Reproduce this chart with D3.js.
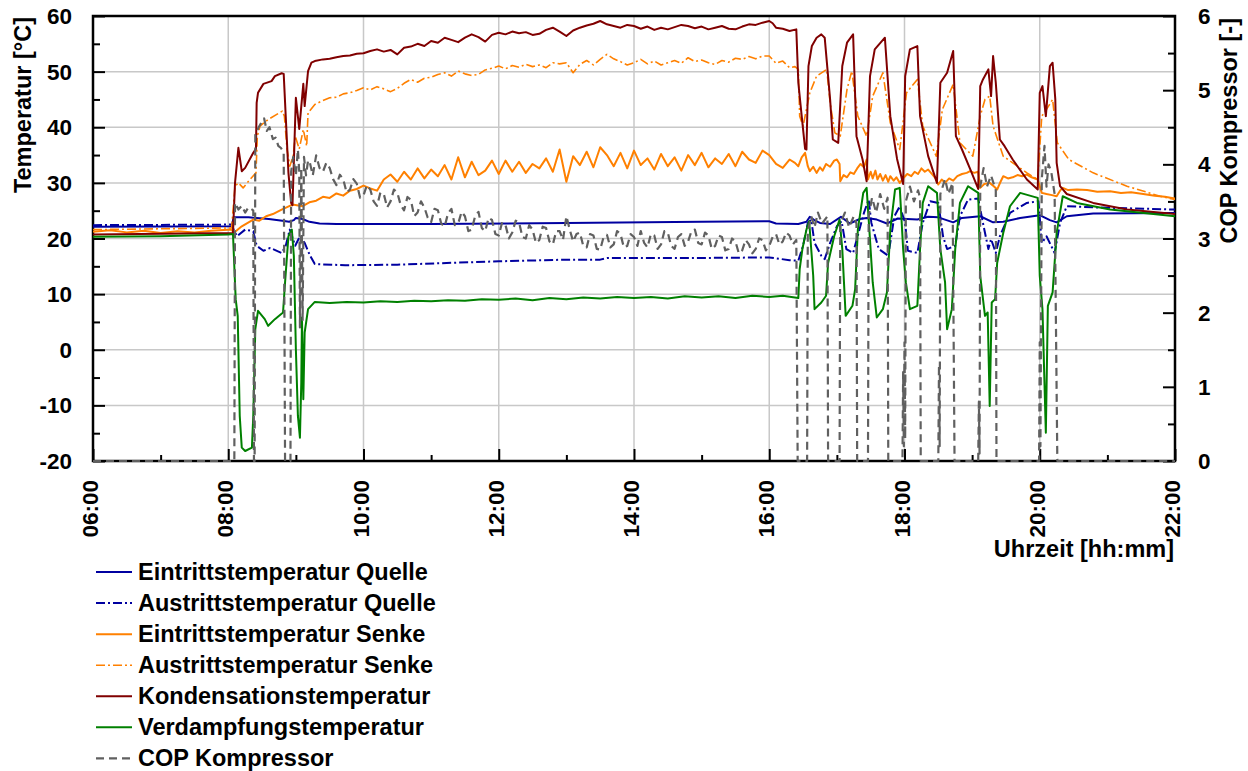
<!DOCTYPE html>
<html>
<head>
<meta charset="utf-8">
<script src="https://cdn.jsdelivr.net/npm/d3@7"></script>
<style>
  body { margin: 0; background: #fff; }
  text { font-family: "Liberation Sans", Arial, sans-serif; font-weight: bold; fill: #000; }
</style>
</head>
<body>
<svg id="chart" width="1248" height="771"></svg>
<script>

/* ── Data: [time in hours, value] ── */
const eintrittQuelle = [
  [6.0, 22.1], [8.05, 22.2], [8.08, 23.8], [8.3, 23.8], [8.6, 23.5], [8.8, 23.2], [8.9, 23.0],
  [8.97, 23.3], [9.0, 23.7], [9.1, 23.5], [9.2, 23.0], [9.35, 22.7], [9.6, 22.6], [11.0, 22.6],
  [13.0, 22.8], [15.0, 23.0], [16.0, 23.1], [16.1, 22.7], [16.43, 22.6], [16.55, 23.0], [16.6, 23.9],
  [16.68, 23.2], [16.75, 22.8], [16.9, 22.6], [17.06, 23.9], [17.19, 22.7], [17.34, 23.5], [17.44, 23.7],
  [17.59, 23.4], [17.74, 22.7], [17.9, 23.6], [18.04, 23.5], [18.19, 23.4], [18.35, 23.9], [18.5, 23.8],
  [18.72, 22.9], [18.85, 23.7], [19.12, 24.0], [19.31, 22.9], [19.46, 23.0], [19.71, 23.7], [20.0, 24.2],
  [20.15, 23.3], [20.25, 22.9], [20.4, 24.0], [20.79, 24.5], [22.0, 24.6]
];

const austrittQuelle = [
  [6.0, 22.4], [8.05, 22.5], [8.08, 21.6], [8.13, 20.4], [8.25, 21.6], [8.37, 21.3], [8.42, 18.7],
  [8.52, 17.8], [8.62, 18.3], [8.79, 17.4], [8.85, 18.7], [8.91, 21.6], [8.99, 18.7], [9.06, 20.4],
  [9.13, 19.2], [9.21, 16.9], [9.28, 15.4], [9.73, 15.2], [10.5, 15.3], [12.0, 15.9], [13.0, 16.2],
  [13.5, 16.2], [13.6, 16.5], [15.0, 16.5], [16.0, 16.6], [16.3, 16.1], [16.43, 16.0], [16.5, 18.7],
  [16.57, 22.8], [16.62, 23.4], [16.67, 19.2], [16.77, 16.9], [16.82, 16.3], [16.9, 19.2], [17.0, 22.2],
  [17.07, 23.1], [17.14, 18.1], [17.24, 17.4], [17.32, 21.0], [17.4, 24.6], [17.47, 27.0], [17.51, 22.8],
  [17.62, 18.1], [17.76, 16.9], [17.85, 24.0], [17.93, 25.8], [18.01, 22.8], [18.05, 17.8], [18.19, 17.4],
  [18.27, 22.8], [18.38, 26.7], [18.5, 26.4], [18.57, 20.4], [18.63, 18.1], [18.75, 18.7], [18.82, 24.0],
  [18.94, 27.0], [19.09, 27.2], [19.16, 22.8], [19.24, 18.1], [19.28, 19.9], [19.35, 17.4], [19.41, 20.4],
  [19.56, 24.6], [19.81, 26.4], [19.98, 26.7], [20.03, 19.2], [20.1, 20.4], [20.22, 17.4], [20.3, 22.8],
  [20.4, 25.8], [20.8, 25.6], [22.0, 25.2]
];

const eintrittSenke = [
  [6.0, 21.2], [6.25, 21.5], [6.5, 21.1], [6.75, 21.4], [7.0, 21.0], [7.25, 21.3], [7.5, 21.1],
  [7.75, 21.4], [8.05, 21.6], [8.08, 21.0], [8.2, 22.2], [8.37, 23.4], [8.46, 23.2], [8.56, 24.0],
  [8.66, 24.4], [8.79, 25.2], [8.95, 26.1], [9.1, 25.8], [9.2, 26.5],
  [9.3, 26.8], [9.4, 27.5], [9.5, 27.3], [9.6, 28.1], [9.7, 27.7], [9.8, 28.6], [9.9, 28.9],
  [10.0, 29.5], [10.1, 29.0], [10.2, 28.6], [10.3, 30.6], [10.4, 31.5], [10.5, 30.2], [10.6, 32.0],
  [10.7, 30.6], [10.8, 32.6], [10.9, 30.8], [11.0, 32.4], [11.1, 31.2], [11.2, 33.2], [11.3, 30.6],
  [11.4, 34.6], [11.5, 31.0], [11.6, 33.8], [11.7, 31.4], [11.8, 32.2], [11.9, 34.0], [12.0, 31.6],
  [12.1, 34.0], [12.2, 32.0], [12.3, 33.8], [12.4, 31.8], [12.5, 33.4], [12.6, 32.6], [12.7, 34.4],
  [12.8, 32.0], [12.9, 36.0], [13.0, 30.2], [13.1, 34.8], [13.2, 33.2], [13.3, 35.6], [13.4, 32.8],
  [13.5, 36.4], [13.6, 35.0], [13.7, 33.0], [13.8, 35.4], [13.9, 32.6], [14.0, 35.8], [14.1, 33.2],
  [14.2, 34.4], [14.3, 32.4], [14.4, 35.2], [14.5, 33.0], [14.6, 34.6], [14.7, 32.2], [14.8, 35.0],
  [14.9, 33.2], [15.0, 35.4], [15.1, 32.8], [15.2, 34.4], [15.3, 33.4], [15.4, 35.2], [15.5, 33.0],
  [15.6, 35.6], [15.7, 34.2], [15.8, 33.6], [15.9, 35.8], [16.0, 35.0], [16.1, 33.4], [16.2, 32.7],
  [16.3, 34.2], [16.38, 33.6], [16.43, 33.0], [16.48, 34.6], [16.53, 35.4], [16.57, 33.0], [16.6, 32.1],
  [16.65, 32.9], [16.7, 31.8], [16.75, 32.8], [16.79, 32.2], [16.84, 33.4], [16.9, 32.9], [16.96, 34.0],
  [17.0, 34.2], [17.04, 33.4], [17.05, 30.3], [17.1, 31.4], [17.15, 31.0], [17.2, 31.9], [17.25, 31.6],
  [17.3, 32.6], [17.35, 33.4], [17.4, 32.8], [17.44, 34.2], [17.46, 30.6], [17.5, 32.0], [17.53, 30.8],
  [17.57, 32.2], [17.6, 30.6], [17.64, 31.6], [17.68, 30.4], [17.72, 31.4], [17.76, 30.2], [17.79, 31.2],
  [17.84, 30.4], [17.88, 31.0], [17.93, 30.0], [17.98, 30.8], [18.04, 31.6], [18.1, 31.2], [18.15, 32.0],
  [18.2, 31.6], [18.25, 32.6], [18.3, 32.0], [18.35, 32.4], [18.42, 31.4], [18.46, 30.8], [18.5, 29.7],
  [18.55, 30.6], [18.6, 30.0], [18.66, 30.8], [18.72, 30.4], [18.78, 31.2], [18.85, 31.6], [18.92, 31.8],
  [18.97, 32.1], [19.03, 31.8], [19.09, 32.0], [19.12, 29.1], [19.18, 29.8], [19.26, 30.0], [19.32, 29.4],
  [19.37, 28.8], [19.42, 30.2], [19.46, 31.2], [19.53, 30.8], [19.6, 31.0], [19.67, 31.4], [19.74, 31.2],
  [19.81, 31.5], [19.88, 31.0], [19.97, 30.6], [20.03, 28.2], [20.1, 28.0], [20.18, 27.8], [20.25, 27.6],
  [20.3, 28.6], [20.34, 29.1], [20.42, 28.7], [20.55, 28.8], [20.7, 28.7], [20.85, 28.4], [21.04, 28.5],
  [21.2, 28.2], [21.35, 28.3], [21.53, 28.0], [21.7, 27.7], [21.85, 27.5], [22.0, 27.2]
];

const austrittSenke = [
  [6.0, 21.6], [8.05, 21.9], [8.1, 29.4], [8.15, 30.0], [8.22, 29.1], [8.32, 30.6], [8.41, 31.8],
  [8.43, 38.4], [8.47, 40.2], [8.59, 41.4], [8.8, 42.9], [8.83, 42.0], [8.87, 36.0], [8.91, 33.0],
  [8.96, 34.8], [8.99, 38.4], [9.05, 36.1], [9.11, 39.6], [9.16, 36.6], [9.18, 42.6], [9.28, 44.1],
  [9.4, 44.8], [9.5, 45.3], [9.6, 45.4], [9.7, 46.0], [9.8, 46.2], [9.9, 46.6], [10.0, 47.1],
  [10.1, 46.7], [10.2, 47.3], [10.3, 46.9], [10.4, 46.4], [10.5, 47.0], [10.6, 47.9], [10.7, 48.6],
  [10.8, 48.1], [10.9, 48.8], [11.0, 49.0], [11.1, 49.5], [11.2, 49.8], [11.3, 49.2], [11.4, 50.1],
  [11.5, 49.6], [11.6, 49.3], [11.7, 49.5], [11.8, 50.3], [11.9, 50.6], [12.0, 51.0], [12.1, 50.5],
  [12.2, 51.1], [12.3, 50.8], [12.4, 51.3], [12.5, 50.9], [12.6, 51.2], [12.7, 50.7], [12.8, 51.6],
  [12.9, 51.4], [13.0, 51.6], [13.1, 49.8], [13.2, 51.3], [13.3, 52.0], [13.4, 51.2], [13.5, 52.2],
  [13.6, 53.1], [13.7, 52.3], [13.8, 51.8], [13.9, 51.2], [14.0, 51.6], [14.1, 52.2], [14.2, 51.4],
  [14.3, 51.9], [14.4, 51.2], [14.5, 51.6], [14.6, 52.0], [14.7, 51.5], [14.8, 52.5], [14.9, 51.8],
  [15.0, 52.1], [15.1, 51.6], [15.2, 51.3], [15.3, 52.0], [15.4, 51.7], [15.5, 52.4], [15.6, 52.2],
  [15.7, 52.7], [15.8, 52.3], [15.9, 52.8], [16.0, 52.8], [16.1, 51.5], [16.2, 51.9], [16.3, 50.7],
  [16.38, 50.9], [16.43, 50.4], [16.45, 42.0], [16.5, 40.2], [16.6, 46.2], [16.7, 49.2], [16.85, 50.4],
  [16.9, 44.4], [16.97, 39.0], [17.05, 38.4], [17.15, 46.8], [17.22, 50.1], [17.31, 42.0], [17.44, 38.4],
  [17.53, 45.6], [17.68, 49.8], [17.79, 40.8], [17.93, 36.0], [18.03, 46.2], [18.19, 48.6], [18.27, 40.2],
  [18.47, 34.8], [18.56, 43.2], [18.72, 47.7], [18.82, 37.2], [19.01, 34.8], [19.12, 42.0], [19.19, 45.0],
  [19.26, 45.6], [19.31, 40.2], [19.46, 34.8], [19.81, 31.8], [19.97, 30.6], [20.03, 42.0], [20.1, 43.2],
  [20.19, 45.0], [20.26, 37.2], [20.43, 34.2], [20.79, 31.8], [21.29, 29.4], [21.78, 27.6], [22.0, 27.0]
];

const kondensation = [
  [6.0, 20.7], [8.07, 21.0], [8.1, 30.0], [8.15, 36.3], [8.2, 32.1], [8.25, 32.7], [8.37, 35.4],
  [8.41, 36.1], [8.42, 44.4], [8.44, 46.2], [8.52, 47.8], [8.64, 48.3], [8.69, 49.2], [8.79, 49.7],
  [8.82, 49.6], [8.85, 42.0], [8.89, 31.8], [8.93, 26.4], [8.95, 26.0], [9.0, 45.3], [9.05, 39.7],
  [9.11, 47.8], [9.13, 43.8], [9.18, 50.1], [9.23, 51.6], [9.28, 51.9],
  [9.4, 52.2], [9.5, 52.3], [9.6, 52.6], [9.7, 52.8], [9.8, 52.9], [9.9, 53.2], [10.0, 53.3],
  [10.1, 53.7], [10.2, 54.0], [10.3, 53.6], [10.4, 53.9], [10.5, 53.1], [10.6, 54.3], [10.7, 54.5],
  [10.8, 55.0], [10.9, 54.6], [11.0, 55.5], [11.1, 55.2], [11.2, 56.1], [11.3, 55.7], [11.4, 55.3],
  [11.5, 56.1], [11.6, 56.7], [11.7, 56.2], [11.8, 55.4], [11.9, 56.6], [12.0, 57.0], [12.1, 56.7],
  [12.2, 57.2], [12.3, 56.9], [12.4, 57.1], [12.5, 56.6], [12.6, 56.8], [12.7, 57.5], [12.8, 57.9],
  [12.9, 57.2], [13.0, 56.4], [13.1, 57.4], [13.2, 57.9], [13.3, 58.3], [13.4, 58.6], [13.5, 59.1],
  [13.6, 58.5], [13.7, 58.2], [13.8, 57.9], [13.9, 58.4], [14.0, 58.2], [14.1, 57.7], [14.2, 58.1],
  [14.3, 57.5], [14.4, 57.9], [14.5, 57.6], [14.6, 58.0], [14.7, 58.4], [14.8, 58.2], [14.9, 57.8],
  [15.0, 58.1], [15.1, 57.6], [15.2, 57.9], [15.3, 58.2], [15.4, 57.7], [15.5, 57.6], [15.6, 58.1],
  [15.7, 58.5], [15.8, 58.4], [15.9, 58.8], [16.0, 59.1], [16.05, 58.7], [16.1, 57.9], [16.2, 57.7],
  [16.3, 57.3], [16.4, 57.6], [16.43, 48.0], [16.48, 42.0], [16.53, 36.1], [16.55, 36.0], [16.58, 51.0],
  [16.63, 54.6], [16.7, 56.1], [16.77, 56.7], [16.82, 56.1], [16.9, 45.0], [16.94, 37.8], [17.02, 37.2],
  [17.08, 51.0], [17.15, 55.2], [17.24, 56.7], [17.29, 38.4], [17.38, 34.2], [17.44, 30.3], [17.49, 49.2],
  [17.56, 54.0], [17.71, 56.1], [17.79, 42.0], [17.89, 34.3], [17.98, 29.8], [18.01, 49.2], [18.08, 54.0],
  [18.19, 54.6], [18.23, 42.0], [18.35, 34.8], [18.48, 30.0], [18.53, 48.0], [18.63, 49.8], [18.72, 53.7],
  [18.76, 38.4], [18.85, 36.0], [18.97, 32.5], [19.09, 28.9], [19.12, 47.4], [19.16, 48.6], [19.24, 50.4],
  [19.28, 45.6], [19.31, 52.8], [19.35, 48.0], [19.41, 37.8], [19.48, 36.6], [19.6, 34.2], [19.81, 30.6],
  [19.97, 28.8], [20.0, 46.2], [20.04, 47.4], [20.09, 42.0], [20.15, 51.0], [20.19, 51.6], [20.23, 45.0],
  [20.25, 33.6], [20.3, 29.4], [20.4, 28.0], [20.79, 26.4], [21.29, 25.2], [22.0, 24.4]
];

const verdampfung = [
  [6.0, 20.3], [7.0, 20.4], [8.0, 20.7], [8.07, 20.8], [8.11, 9.1], [8.14, 6.1], [8.17, -11.9],
  [8.2, -17.6], [8.25, -18.2], [8.35, -17.6], [8.37, -11.9], [8.4, 3.7], [8.44, 7.0], [8.54, 5.5],
  [8.59, 4.3], [8.69, 5.5], [8.81, 6.7], [8.84, 12.1], [8.89, 20.4], [8.94, 21.6], [8.97, 16.9],
  [9.0, 0.1], [9.03, -11.9], [9.06, -15.8], [9.08, -5.9], [9.09, 5.8], [9.11, -8.9], [9.13, 3.1],
  [9.18, 7.3], [9.28, 8.6], [9.5, 8.4], [9.75, 8.6], [10.0, 8.5], [10.25, 8.7], [10.5, 8.6],
  [10.75, 8.8], [11.0, 8.7], [11.25, 8.9], [11.5, 8.8], [11.75, 9.1], [12.0, 9.0], [12.25, 9.2],
  [12.5, 8.9], [12.75, 9.3], [13.0, 9.1], [13.25, 9.4], [13.5, 9.2], [13.75, 9.5], [14.0, 9.3],
  [14.25, 9.5], [14.5, 9.2], [14.75, 9.6], [15.0, 9.4], [15.25, 9.6], [15.5, 9.3], [15.75, 9.7],
  [16.0, 9.5], [16.2, 9.7], [16.43, 9.3], [16.45, 14.5], [16.49, 18.1], [16.55, 21.6], [16.59, 23.1],
  [16.65, 13.3], [16.67, 7.3], [16.77, 8.5], [16.84, 9.7], [16.87, 15.6], [16.96, 20.4], [17.04, 23.4],
  [17.08, 18.1], [17.13, 6.1], [17.23, 7.9], [17.27, 10.9], [17.31, 21.6], [17.39, 28.2], [17.44, 29.1],
  [17.48, 21.6], [17.53, 12.1], [17.59, 5.8], [17.68, 7.3], [17.74, 10.3], [17.79, 21.6], [17.86, 28.8],
  [17.93, 29.1], [17.98, 18.1], [18.02, 12.1], [18.08, 7.3], [18.19, 7.9], [18.23, 18.1], [18.27, 26.4],
  [18.35, 29.4], [18.48, 28.2], [18.53, 18.1], [18.6, 12.1], [18.63, 3.7], [18.7, 7.3], [18.75, 18.1],
  [18.82, 26.4], [18.94, 29.4], [19.09, 28.2], [19.12, 13.3], [19.19, 6.1], [19.23, 6.7], [19.26, -10.1],
  [19.29, 8.5], [19.34, 9.1], [19.37, 15.6], [19.46, 21.0], [19.56, 25.8], [19.71, 28.2], [19.97, 27.3],
  [20.0, 13.3], [20.04, 7.3], [20.09, -14.9], [20.12, 7.9], [20.19, 10.3], [20.25, 21.0], [20.34, 27.6],
  [20.55, 26.4], [21.04, 25.2], [22.0, 24.0]
];

const copKompressor = [
  [6.0, 0], [8.09, 0], [8.1, 3.48], [8.15, 3.39], [8.2, 3.44], [8.25, 3.35], [8.3, 3.42], [8.37, 3.38],
  [8.38, 0], [8.39, 0], [8.4, 4.40], [8.45, 4.50], [8.5, 4.58], [8.53, 4.62], [8.57, 4.45], [8.61, 4.50],
  [8.66, 4.34], [8.7, 4.36], [8.74, 4.25], [8.78, 4.22], [8.82, 4.16], [8.84, 0], [8.92, 0], [8.93, 3.9],
  [8.96, 4.1], [9.0, 3.85], [9.03, 4.2], [9.05, 3.9], [9.06, 1.8], [9.08, 3.95], [9.1, 1.9], [9.12, 4.1],
  [9.15, 3.85], [9.18, 4.05], [9.2, 4.05], [9.25, 3.85], [9.3, 4.12], [9.35, 3.95], [9.4, 3.90],
  [9.45, 4.02], [9.5, 3.95], [9.55, 3.80], [9.6, 3.72], [9.65, 3.86], [9.7, 3.80], [9.75, 3.62],
  [9.8, 3.66], [9.85, 3.80], [9.9, 3.74], [9.95, 3.55], [10.0, 3.58], [10.05, 3.72], [10.1, 3.66],
  [10.15, 3.50], [10.2, 3.44], [10.25, 3.62], [10.3, 3.60], [10.35, 3.42], [10.4, 3.50], [10.45, 3.66],
  [10.5, 3.62], [10.55, 3.45], [10.6, 3.38], [10.65, 3.56], [10.7, 3.52], [10.75, 3.30], [10.8, 3.35],
  [10.85, 3.50], [10.9, 3.42], [10.95, 3.28], [11.0, 3.22], [11.05, 3.40], [11.1, 3.38], [11.15, 3.20],
  [11.2, 3.16], [11.25, 3.34], [11.3, 3.40], [11.35, 3.18], [11.4, 3.20], [11.45, 3.36], [11.5, 3.30],
  [11.55, 3.10], [11.6, 3.12], [11.65, 3.30], [11.7, 3.36], [11.75, 3.14], [11.8, 3.10], [11.85, 3.28],
  [11.9, 3.25], [11.95, 3.06], [12.0, 3.04], [12.05, 3.22], [12.1, 3.18], [12.15, 3.00], [12.2, 3.08],
  [12.25, 3.24], [12.3, 3.22], [12.35, 3.02], [12.4, 3.00], [12.45, 3.18], [12.5, 3.12], [12.55, 2.94],
  [12.6, 2.98], [12.65, 3.16], [12.7, 3.14], [12.75, 2.96], [12.8, 2.92], [12.85, 3.10], [12.9, 3.10],
  [12.95, 2.98], [13.0, 3.30], [13.05, 3.12], [13.1, 2.96], [13.15, 3.06], [13.2, 3.08], [13.25, 2.90],
  [13.3, 2.88], [13.35, 3.06], [13.4, 3.04], [13.45, 2.86], [13.5, 2.85], [13.55, 3.02], [13.6, 3.05],
  [13.65, 2.88], [13.7, 2.92], [13.75, 3.10], [13.8, 3.06], [13.85, 2.88], [13.9, 2.90], [13.95, 3.06],
  [14.0, 3.02], [14.05, 2.90], [14.1, 3.10], [14.15, 2.94], [14.2, 2.88], [14.25, 3.06], [14.3, 3.04],
  [14.35, 2.86], [14.4, 2.92], [14.45, 3.10], [14.5, 3.08], [14.55, 2.90], [14.6, 2.86], [14.65, 3.02],
  [14.7, 3.06], [14.75, 2.90], [14.8, 2.96], [14.85, 3.10], [14.9, 3.12], [14.95, 2.94], [15.0, 2.92],
  [15.05, 3.08], [15.1, 3.04], [15.15, 2.86], [15.2, 2.90], [15.25, 3.04], [15.3, 3.02], [15.35, 2.84],
  [15.4, 2.86], [15.45, 3.00], [15.5, 2.96], [15.55, 2.80], [15.6, 2.84], [15.65, 2.98], [15.7, 2.92],
  [15.75, 2.80], [15.8, 2.86], [15.85, 3.00], [15.9, 2.98], [15.95, 2.84], [16.0, 2.90], [16.05, 3.02],
  [16.1, 3.06], [16.15, 2.92], [16.2, 2.96], [16.25, 3.08], [16.3, 3.04], [16.35, 2.92], [16.4, 2.98],
  [16.42, 0], [16.56, 0], [16.57, 3.1], [16.62, 3.3], [16.67, 3.15], [16.72, 3.35], [16.78, 3.2],
  [16.86, 3.3], [16.87, 0], [17.04, 0], [17.05, 3.2], [17.12, 3.35], [17.18, 3.15], [17.25, 3.3],
  [17.29, 3.2], [17.3, 0], [17.46, 0], [17.47, 3.3], [17.52, 3.55], [17.58, 3.35], [17.64, 3.6],
  [17.7, 3.4], [17.75, 3.55], [17.76, 0], [17.97, 0], [17.98, 1.2], [17.99, 0.2], [18.0, 1.6],
  [18.01, 0.3], [18.02, 3.5], [18.08, 3.7], [18.14, 3.5], [18.2, 3.65], [18.23, 3.55], [18.24, 0],
  [18.5, 0], [18.51, 1.3], [18.52, 0.2], [18.53, 3.6], [18.6, 3.8], [18.65, 3.6], [18.71, 3.75],
  [18.74, 0], [19.09, 0], [19.1, 0.8], [19.11, 0.1], [19.12, 3.7], [19.17, 3.95], [19.22, 3.7],
  [19.28, 3.85], [19.35, 3.65], [19.36, 0], [19.99, 0], [20.0, 1.6], [20.01, 0.2], [20.03, 3.8],
  [20.07, 4.25], [20.1, 3.7], [20.13, 4.0], [20.17, 3.9], [20.22, 3.6], [20.26, 0], [22.0, 0]
];

/* ── Axis ticks ── */
const xTicks = [6, 8, 10, 12, 14, 16, 18, 20, 22];
const xMinorTicks = [7, 9, 11, 13, 15, 17, 19, 21];
const yTicks = [-20, -10, 0, 10, 20, 30, 40, 50, 60];
const yMinorTicks = [-15, -5, 5, 15, 25, 35, 45, 55];
const yRightTicks = [0, 1, 2, 3, 4, 5, 6];
const yRightMinorTicks = [0.5, 1.5, 2.5, 3.5, 4.5, 5.5];

/* ── Series styles ── */
const series = [
  { label: 'Eintrittstemperatur Quelle', data: eintrittQuelle, color: '#0000a0', width: 2, dash: null, axis: 'left' },
  { label: 'Austrittstemperatur Quelle', data: austrittQuelle, color: '#0000a0', width: 2, dash: '9,3,2,3', axis: 'left' },
  { label: 'Eintrittstemperatur Senke', data: eintrittSenke, color: '#ff8000', width: 2, dash: null, axis: 'left' },
  { label: 'Austrittstemperatur Senke', data: austrittSenke, color: '#ff8000', width: 1.6, dash: '9,3,2,3', axis: 'left' },
  { label: 'Kondensationstemperatur', data: kondensation, color: '#800000', width: 2, dash: null, axis: 'left' },
  { label: 'Verdampfungstemperatur', data: verdampfung, color: '#008000', width: 2, dash: null, axis: 'left' },
  { label: 'COP Kompressor', data: copKompressor, color: '#606060', width: 2.2, dash: '8,5', axis: 'right' }
];

/* ── Layout ── */
const margin = { left: 93, right: 1175, top: 16, bottom: 461 };
const svg = d3.select('#chart');

const xScale = d3.scaleLinear().domain([6, 22]).range([margin.left, margin.right]);
const yScale = d3.scaleLinear().domain([-20, 60]).range([margin.bottom, margin.top]);
const yScaleR = d3.scaleLinear().domain([0, 6]).range([margin.bottom, margin.top]);

const fmtTime = h => d3.format('02d')(h) + ':00';

/* ── Grid ── */
const grid = svg.append('g').attr('stroke', '#c8c8c8').attr('stroke-width', 1.5);
grid.selectAll('line.gx')
  .data(xTicks.slice(1, -1))
  .join('line')
  .attr('x1', d => xScale(d)).attr('x2', d => xScale(d))
  .attr('y1', margin.top).attr('y2', margin.bottom);
grid.selectAll('line.gy')
  .data(yTicks.slice(1, -1))
  .join('line')
  .attr('y1', d => yScale(d)).attr('y2', d => yScale(d))
  .attr('x1', margin.left).attr('x2', margin.right);

/* ── Axes (ticks inside, major longer than minor) ── */
function tickAxis(axisFn, scale, values, size, transform) {
  const g = svg.append('g')
    .attr('transform', transform)
    .call(axisFn(scale).tickValues(values).tickSize(size).tickFormat(''));
  g.select('.domain').remove();
  g.selectAll('line').attr('stroke', '#000').attr('stroke-width', 2);
}

tickAxis(d3.axisRight, yScale, yTicks, 12, `translate(${margin.left},0)`);
tickAxis(d3.axisRight, yScale, yMinorTicks, 7, `translate(${margin.left},0)`);
tickAxis(d3.axisLeft, yScaleR, yRightTicks, 12, `translate(${margin.right},0)`);
tickAxis(d3.axisLeft, yScaleR, yRightMinorTicks, 7, `translate(${margin.right},0)`);
tickAxis(d3.axisTop, xScale, xTicks, 12, `translate(0,${margin.bottom})`);
tickAxis(d3.axisTop, xScale, xMinorTicks, 6, `translate(0,${margin.bottom})`);

/* Frame */
svg.append('rect')
  .attr('x', margin.left).attr('y', margin.top)
  .attr('width', margin.right - margin.left)
  .attr('height', margin.bottom - margin.top)
  .attr('fill', 'none').attr('stroke', '#000').attr('stroke-width', 2.5);

/* Tick labels */
svg.selectAll('text.ylab')
  .data(yTicks)
  .join('text')
  .attr('class', 'ylab')
  .attr('x', 72).attr('y', d => yScale(d) + 8)
  .attr('text-anchor', 'end').attr('font-size', '22.5px')
  .text(d => d);

svg.selectAll('text.yrlab')
  .data(yRightTicks)
  .join('text')
  .attr('class', 'yrlab')
  .attr('x', margin.right + 23).attr('y', d => yScaleR(d) + 8)
  .attr('text-anchor', 'start').attr('font-size', '22.5px')
  .text(d => d);

svg.selectAll('text.xlab')
  .data(xTicks)
  .join('text')
  .attr('class', 'xlab')
  .attr('transform', d => `translate(${xScale(d) + 5},${margin.bottom + 19}) rotate(-90)`)
  .attr('text-anchor', 'end').attr('font-size', '22.5px')
  .text(fmtTime);

/* Axis titles */
svg.append('text')
  .attr('transform', `translate(31,${margin.top + 1}) rotate(-90)`)
  .attr('text-anchor', 'end').attr('font-size', '23.5px')
  .text('Temperatur [°C]');

svg.append('text')
  .attr('transform', `translate(1237,${margin.top + 2}) rotate(-90)`)
  .attr('text-anchor', 'end').attr('font-size', '23.5px')
  .text('COP Kompressor [-]');

svg.append('text')
  .attr('x', margin.right - 1).attr('y', 557)
  .attr('text-anchor', 'end').attr('font-size', '23.5px')
  .text('Uhrzeit [hh:mm]');

/* ── Lines ── */
svg.append('clipPath').attr('id', 'plot-clip')
  .append('rect')
  .attr('x', margin.left).attr('y', margin.top - 2)
  .attr('width', margin.right - margin.left).attr('height', margin.bottom - margin.top + 4);

const lines = svg.append('g').attr('clip-path', 'url(#plot-clip)');

lines.selectAll('path.series')
  .data(series)
  .join('path')
  .attr('class', 'series')
  .attr('fill', 'none')
  .attr('stroke', d => d.color)
  .attr('stroke-width', d => d.width)
  .attr('stroke-dasharray', d => d.dash)
  .attr('stroke-linejoin', 'round')
  .attr('d', d => {
    const ys = d.axis === 'right' ? yScaleR : yScale;
    return d3.line().x(p => xScale(p[0])).y(p => ys(p[1]))(d.data);
  });

/* ── Legend ── */
const legend = svg.append('g').attr('transform', 'translate(96,572)');
const rows = legend.selectAll('g.row')
  .data(series)
  .join('g')
  .attr('class', 'row')
  .attr('transform', (d, i) => `translate(0,${i * 31.07})`);

rows.append('line')
  .attr('x1', 0).attr('x2', 36).attr('y1', 0).attr('y2', 0)
  .attr('stroke', d => d.color)
  .attr('stroke-width', d => d.width)
  .attr('stroke-dasharray', d => d.dash);

rows.append('text')
  .attr('x', 42).attr('y', 8)
  .attr('font-size', '23.5px')
  .text(d => d.label);

</script>
</body>
</html>
